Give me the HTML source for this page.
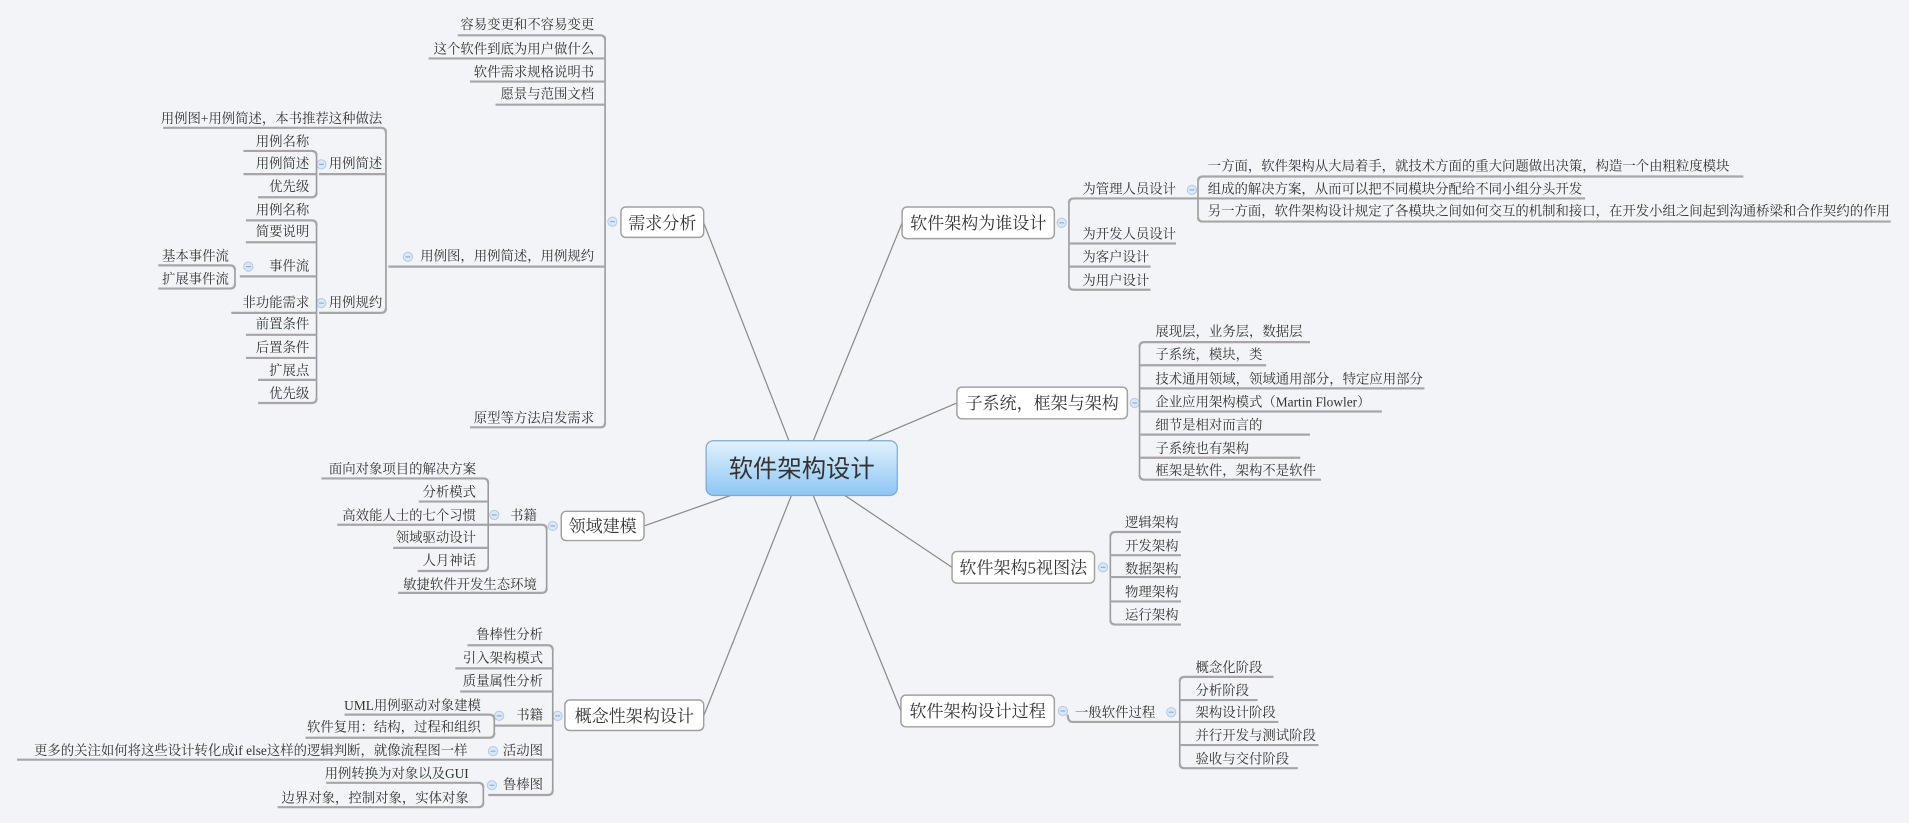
<!DOCTYPE html>
<html><head><meta charset="utf-8"><style>
html,body{margin:0;padding:0;background:#f3f4f8;}
svg{display:block}
text{font-family:"Liberation Serif","Noto Serif CJK SC",serif;fill:#333;font-size:11px}
.u{stroke:#a6a6a8;stroke-width:1.8;fill:none}
.v{stroke:#9a9a9c;stroke-width:1.3;fill:none}
.c{stroke:#8a8a8a;stroke-width:1;fill:none}
.bx{fill:#fff;stroke:#a0a0a0;stroke-width:1.2}
.m{font-size:14px}
.ic{fill:#dbe7f6;stroke:#b2c9e6;stroke-width:0.8}
.icl{stroke:#8fb0db;stroke-width:1}
</style></head><body>
<svg width="1909" height="823" viewBox="0 0 1568 676" preserveAspectRatio="none" xmlns="http://www.w3.org/2000/svg">
<defs>
<linearGradient id="g" x1="0" y1="0" x2="0" y2="1"><stop offset="0" stop-color="#e3f1fd"/><stop offset="1" stop-color="#8cc6f4"/></linearGradient>
<g id="icon"><circle r="3.8" class="ic"/><line x1="-2" y1="0" x2="2" y2="0" class="icl"/></g>
</defs>
<rect width="1568" height="676" fill="#f3f4f8"/>

<!-- central connectors -->
<line class="c" x1="578" y1="183" x2="648" y2="362"/>
<line class="c" x1="529" y1="432" x2="600" y2="407"/>
<line class="c" x1="578" y1="588" x2="650" y2="407"/>
<line class="c" x1="741" y1="183" x2="668" y2="362"/>
<line class="c" x1="786" y1="331" x2="713" y2="362"/>
<line class="c" x1="782" y1="466" x2="694" y2="407"/>
<line class="c" x1="740" y1="584" x2="668" y2="407"/>

<!-- central -->
<rect x="580" y="362" width="157" height="45" rx="6" fill="url(#g)" stroke="#7fa9cf" stroke-width="1"/>
<text x="658.5" y="392" text-anchor="middle" style="font-size:20px;font-family:'Liberation Sans','Noto Sans CJK SC',sans-serif">软件架构设计</text>

<!-- ===== 需求分析 ===== -->
<rect class="bx" x="510" y="170" width="68" height="25" rx="4"/>
<text class="m" x="544" y="188" text-anchor="middle">需求分析</text>
<use href="#icon" x="503" y="182"/>
<path class="v" d="M497 30 V349"/>
<g text-anchor="end">
<text x="488" y="24">容易变更和不容易变更</text><path class="u" d="M376 29 H493 q4 0 4 4"/>
<text x="488" y="44">这个软件到底为用户做什么</text><path class="u" d="M352 48 H497"/>
<text x="488" y="63">软件需求规格说明书</text><path class="u" d="M386 67 H497"/>
<text x="488" y="81">愿景与范围文档</text><path class="u" d="M407 86 H497"/>
<text x="488" y="214">用例图，用例简述，用例规约</text><path class="u" d="M319 219 H497"/>
<text x="488" y="347">原型等方法启发需求</text><path class="u" d="M386 351 H493 q4 0 4 -4"/>
</g>
<use href="#icon" x="335" y="211"/>
<path class="v" d="M317 108 V254"/>
<g text-anchor="end">
<text x="314" y="101">用例图+用例简述，本书推荐这种做法</text><path class="u" d="M134 105 H313 q4 0 4 4"/>
<text x="314" y="138">用例简述</text><path class="u" d="M262 143 H317"/>
<text x="314" y="252">用例规约</text><path class="u" d="M262 257 H313 q4 0 4 -4"/>
</g>
<use href="#icon" x="264" y="135"/>
<use href="#icon" x="264" y="249"/>
<path class="v" d="M260 127 V159"/>
<g text-anchor="end">
<text x="254" y="120">用例名称</text><path class="u" d="M200 124 H256 q4 0 4 4"/>
<text x="254" y="138">用例简述</text><path class="u" d="M200 143 H260"/>
<text x="254" y="157">优先级</text><path class="u" d="M212 162 H256 q4 0 4 -4"/>
</g>
<path class="v" d="M260 184 V328"/>
<g text-anchor="end">
<text x="254" y="176">用例名称</text><path class="u" d="M202 181 H256 q4 0 4 4"/>
<text x="254" y="194">简要说明</text><path class="u" d="M202 199 H260"/>
<text x="254" y="222">事件流</text><path class="u" d="M197 227 H260"/>
<text x="254" y="252">非功能需求</text><path class="u" d="M190 257 H260"/>
<text x="254" y="270">前置条件</text><path class="u" d="M202 275 H260"/>
<text x="254" y="289">后置条件</text><path class="u" d="M202 294 H260"/>
<text x="254" y="308">扩展点</text><path class="u" d="M212 312 H260"/>
<text x="254" y="327">优先级</text><path class="u" d="M212 331 H256 q4 0 4 -4"/>
</g>
<use href="#icon" x="204" y="219"/>
<path class="v" d="M193 221 V234"/>
<g text-anchor="end">
<text x="188" y="214">基本事件流</text><path class="u" d="M130 218 H189 q4 0 4 4"/>
<text x="188" y="233">扩展事件流</text><path class="u" d="M130 237 H189 q4 0 4 -4"/>
</g>

<!-- ===== 领域建模 ===== -->
<rect class="bx" x="461" y="420" width="68" height="24" rx="4"/>
<text class="m" x="495" y="437" text-anchor="middle">领域建模</text>
<use href="#icon" x="454" y="432"/>
<path class="v" d="M449 434 V483"/>
<g text-anchor="end">
<text x="441" y="427">书籍</text><path class="u" d="M400 431 H445 q4 0 4 4"/>
<text x="441" y="484">敏捷软件开发生态环境</text><path class="u" d="M327 487 H445 q4 0 4 -4"/>
</g>
<use href="#icon" x="406" y="423"/>
<path class="v" d="M401 396 V466"/>
<g text-anchor="end">
<text x="391" y="389">面向对象项目的解决方案</text><path class="u" d="M264 393 H397 q4 0 4 4"/>
<text x="391" y="408">分析模式</text><path class="u" d="M344 412 H401"/>
<text x="391" y="427">高效能人士的七个习惯</text><path class="u" d="M277 431 H401"/>
<text x="391" y="445">领域驱动设计</text><path class="u" d="M323 450 H401"/>
<text x="391" y="464">人月神话</text><path class="u" d="M343 469 H397 q4 0 4 -4"/>
</g>

<!-- ===== 概念性架构设计 ===== -->
<rect class="bx" x="464" y="575" width="114" height="25" rx="4"/>
<text class="m" x="521" y="593" text-anchor="middle">概念性架构设计</text>
<use href="#icon" x="458" y="588"/>
<path class="v" d="M454 533 V649"/>
<g text-anchor="end">
<text x="446" y="525">鲁棒性分析</text><path class="u" d="M384 530 H450 q4 0 4 4"/>
<text x="446" y="544">引入架构模式</text><path class="u" d="M374 549 H454"/>
<text x="446" y="563">质量属性分析</text><path class="u" d="M378 568 H454"/>
<text x="446" y="591">书籍</text><path class="u" d="M406 596 H454"/>
<text x="446" y="620">活动图</text><path class="u" d="M14 624 H454"/>
<text x="446" y="648">鲁棒图</text><path class="u" d="M401 653 H450 q4 0 4 -4"/>
</g>
<use href="#icon" x="410" y="588"/>
<use href="#icon" x="405" y="617"/>
<use href="#icon" x="404" y="645"/>
<path class="v" d="M406 590 V603"/>
<g text-anchor="end">
<text x="395" y="583">UML用例驱动对象建模</text><path class="u" d="M283 587 H402 q4 0 4 4"/>
<text x="395" y="601">软件复用：结构，过程和组织</text><path class="u" d="M251 606 H402 q4 0 4 -4"/>
<text x="384" y="620">更多的关注如何将这些设计转化成if else这样的逻辑判断，就像流程图一样</text>
</g>
<path class="v" d="M397 647 V660"/>
<g text-anchor="end">
<text x="385" y="639">用例转换为对象以及GUI</text><path class="u" d="M268 643 H393 q4 0 4 4"/>
<text x="385" y="659">边界对象，控制对象，实体对象</text><path class="u" d="M228 663 H393 q4 0 4 -4"/>
</g>

<!-- ===== 软件架构为谁设计 ===== -->
<rect class="bx" x="741" y="170" width="125" height="26" rx="4"/>
<text class="m" x="803.5" y="188" text-anchor="middle">软件架构为谁设计</text>
<use href="#icon" x="872" y="183"/>
<path class="v" d="M878 167 V234"/>
<text x="889" y="159">为管理人员设计</text><path class="u" d="M882 163 H984 M878 167 q0 -4 4 -4"/>
<text x="889" y="196">为开发人员设计</text><path class="u" d="M878 200 H966"/>
<text x="889" y="215">为客户设计</text><path class="u" d="M878 219 H945"/>
<text x="889" y="234">为用户设计</text><path class="u" d="M882 238 H945 M878 234 q0 4 4 4"/>
<use href="#icon" x="979" y="156"/>
<path class="v" d="M984 149 V178"/>
<text x="992" y="140">一方面，软件架构从大局着手，就技术方面的重大问题做出决策，构造一个由粗粒度模块</text><path class="u" d="M988 145 H1432 M984 149 q0 -4 4 -4"/>
<text x="992" y="159">组成的解决方案，从而可以把不同模块分配给不同小组分头开发</text><path class="u" d="M984 163 H1302"/>
<text x="992" y="177">另一方面，软件架构设计规定了各模块之间如何交互的机制和接口，在开发小组之间起到沟通桥梁和合作契约的作用</text><path class="u" d="M988 182 H1553 M984 178 q0 4 4 4"/>

<!-- ===== 子系统，框架与架构 ===== -->
<rect class="bx" x="786" y="318" width="140" height="26" rx="4"/>
<text class="m" x="856" y="336" text-anchor="middle">子系统，框架与架构</text>
<use href="#icon" x="932" y="331"/>
<path class="v" d="M936 285 V390"/>
<g>
<text x="949" y="276">展现层，业务层，数据层</text><path class="u" d="M940 281 H1076 M936 285 q0 -4 4 -4"/>
<text x="949" y="295">子系统，模块，类</text><path class="u" d="M936 300 H1040"/>
<text x="949" y="315">技术通用领域，领域通用部分，特定应用部分</text><path class="u" d="M936 319 H1170"/>
<text x="949" y="334">企业应用架构模式（Martin Flowler）</text><path class="u" d="M936 338 H1135"/>
<text x="949" y="353">细节是相对而言的</text><path class="u" d="M936 357 H1076"/>
<text x="949" y="372">子系统也有架构</text><path class="u" d="M936 376 H1068"/>
<text x="949" y="390">框架是软件，架构不是软件</text><path class="u" d="M940 394 H1085 M936 390 q0 4 4 4"/>
</g>

<!-- ===== 软件架构5视图法 ===== -->
<rect class="bx" x="782" y="453" width="117" height="26" rx="4"/>
<text class="m" x="840.5" y="471" text-anchor="middle">软件架构5视图法</text>
<use href="#icon" x="906" y="466"/>
<path class="v" d="M912 441 V509"/>
<text x="924" y="433">逻辑架构</text><path class="u" d="M916 437 H970 M912 441 q0 -4 4 -4"/>
<text x="924" y="452">开发架构</text><path class="u" d="M912 456 H970"/>
<text x="924" y="471">数据架构</text><path class="u" d="M912 474 H970"/>
<text x="924" y="490">物理架构</text><path class="u" d="M912 494 H970"/>
<text x="924" y="509">运行架构</text><path class="u" d="M916 513 H970 M912 509 q0 4 4 4"/>

<!-- ===== 软件架构设计过程 ===== -->
<rect class="bx" x="740" y="571" width="126" height="26" rx="4"/>
<text class="m" x="803" y="589" text-anchor="middle">软件架构设计过程</text>
<use href="#icon" x="873" y="584"/>
<text x="883" y="589">一般软件过程</text><path class="u" d="M881 593 H969 M877 587 q0 6 4 6"/>
<use href="#icon" x="962" y="585"/>
<path class="v" d="M969 560 V627"/>
<text x="982" y="552">概念化阶段</text><path class="u" d="M973 556 H1046 M969 560 q0 -4 4 -4"/>
<text x="982" y="571">分析阶段</text><path class="u" d="M969 575 H1033"/>
<text x="982" y="589">架构设计阶段</text><path class="u" d="M969 593 H1050"/>
<text x="982" y="608">并行开发与测试阶段</text><path class="u" d="M969 612 H1083"/>
<text x="982" y="627">验收与交付阶段</text><path class="u" d="M973 631 H1066 M969 627 q0 4 4 4"/>
</svg>
</body></html>
